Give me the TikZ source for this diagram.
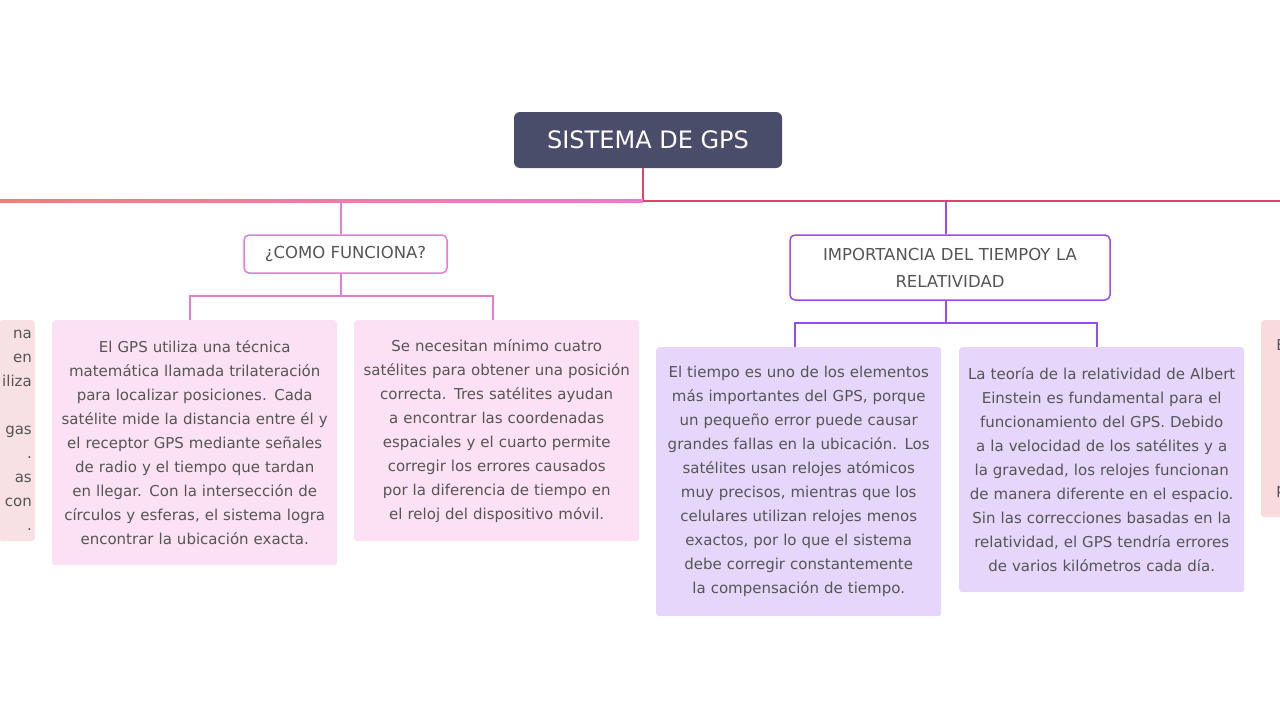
\documentclass[tikz,border=0pt]{standalone}
\usepackage{fontspec}
\setmainfont{DejaVu Sans}
\usetikzlibrary{positioning}
\definecolor{titlebg}{HTML}{4A4D69}
\definecolor{txt}{HTML}{555555}
\definecolor{rootred}{HTML}{DC4468}
\definecolor{lineorange}{HTML}{E8837A}
\definecolor{pinkln}{HTML}{E77BCF}
\definecolor{purpln}{HTML}{9A4CEA}
\definecolor{pinkbg}{HTML}{FBE1F3}
\definecolor{purpbg}{HTML}{E6D6FB}
\definecolor{rosebg}{HTML}{F8E1E4}
\definecolor{redbg}{HTML}{F9DBDE}
\newcommand\nohyph{\hyphenpenalty=10000\exhyphenpenalty=10000\relax}
\tikzset{
  topic/.style={draw, line width=1.5pt, rounded corners=5pt, fill=white, text=txt,
    font=\fontsize{16.5}{27}\selectfont, align=center, inner sep=6pt},
  leaf/.style={rounded corners=3pt, text=txt, text width=273pt, align=center,
    font=\fontsize{15}{24}\selectfont\nohyph,
    inner xsep=6pt, inner ysep=5pt, anchor=north west},
  link/.style={line width=2.5pt}
}
\begin{document}
\begin{tikzpicture}[x=1pt,y=-1pt]
\useasboundingbox (0,0) rectangle (1280,720);
\node[fill=titlebg, rounded corners=6pt, text=white, font=\fontsize{24}{28}\selectfont,
  minimum width=268pt, minimum height=56pt] (gps) at (648,140) {SISTEMA DE GPS};
\node[topic, draw=pinkln, minimum width=203pt, minimum height=38pt] (como) at (345.5,254) {¿COMO FUNCIONA?};
\node[topic, draw=purpln, text width=308pt, minimum height=65pt] (imp) at (950,267.5) {IMPORTANCIA DEL TIEMPOY LA\\RELATIVIDAD};

% partial boxes at the edges
\node[rounded corners=3pt, fill=rosebg, text=txt, font=\fontsize{15}{24}\selectfont,
  align=right, anchor=north east, inner xsep=3pt, inner ysep=5pt, minimum height=221pt] (lft) at (35,320)
  {na\hspace{14pt}\\en\hspace{10pt}\\iliza\hspace{4pt}\\\strut\\gas\hspace{9pt}\\.\hspace{22pt}\\as\hspace{10pt}\\con\hspace{10pt}\\.\hspace{28pt}};
\node[rounded corners=3pt, fill=redbg, text=txt, font=\fontsize{15}{24}\selectfont,
  align=left, anchor=north west, inner xsep=9pt, inner ysep=5pt, minimum height=197pt, minimum width=40pt] (rgt) at (1261,320)
  {E\\\strut\\\strut\\\strut\\\strut\\\strut\\p};

\node[leaf, fill=pinkbg, minimum height=245pt] (tri) at (52,320) {El GPS utiliza una técnica matemática llamada trilateración para localizar posiciones. Cada satélite mide la distancia entre él y el receptor GPS mediante señales de radio y el tiempo que tardan en llegar. Con la intersección de círculos y esferas, el sistema logra encontrar la ubicación exacta.};
\node[leaf, fill=pinkbg, minimum height=221pt] (cua) at (354,320) {Se necesitan mínimo cuatro satélites para obtener una posición correcta. Tres satélites ayudan a encontrar las coordenadas espaciales y el cuarto permite corregir los errores causados por la diferencia de tiempo en el reloj del dispositivo móvil.};
\node[leaf, fill=purpbg, minimum height=269pt] (tie) at (656,347) {El tiempo es uno de los elementos más importantes del GPS, porque un pequeño error puede causar grandes fallas en la ubicación. Los satélites usan relojes atómicos muy precisos, mientras que los celulares utilizan relojes menos exactos, por lo que el sistema debe corregir constantemente la compensación de tiempo.};
\node[leaf, fill=purpbg, minimum height=245pt] (rel) at (959,347) {La teoría de la relatividad de Albert Einstein es fundamental para el funcionamiento del GPS. Debido a la velocidad de los satélites y a la gravedad, los relojes funcionan de manera diferente en el espacio. Sin las correcciones basadas en la relatividad, el GPS tendría errores de varios kilómetros cada día.};

% main branches
\coordinate (hub) at (643,201);
\draw[link, rootred] (gps.south -| hub) -- (hub);
\shade[left color=lineorange, right color=pinkln] (0,199.75) rectangle (643,202.25);
\draw[link, rootred] (hub) -- (1280,201);
\draw[link, pinkln] (341,201) -- (como.north -| 341,0);
\draw[link, purpln] (946,201) -- (imp.north -| 946,0);

% sub branches
\draw[link, pinkln] (como.south -| 341,0) -- (341,296);
\draw[link, pinkln] (tri.north -| 190,0) |- (341,296) -| (cua.north -| 493,0);
\draw[link, purpln] (imp.south -| 946,0) -- (946,323);
\draw[link, purpln] (tie.north -| 795,0) |- (946,323) -| (rel.north -| 1097,0);
\end{tikzpicture}
\end{document}
